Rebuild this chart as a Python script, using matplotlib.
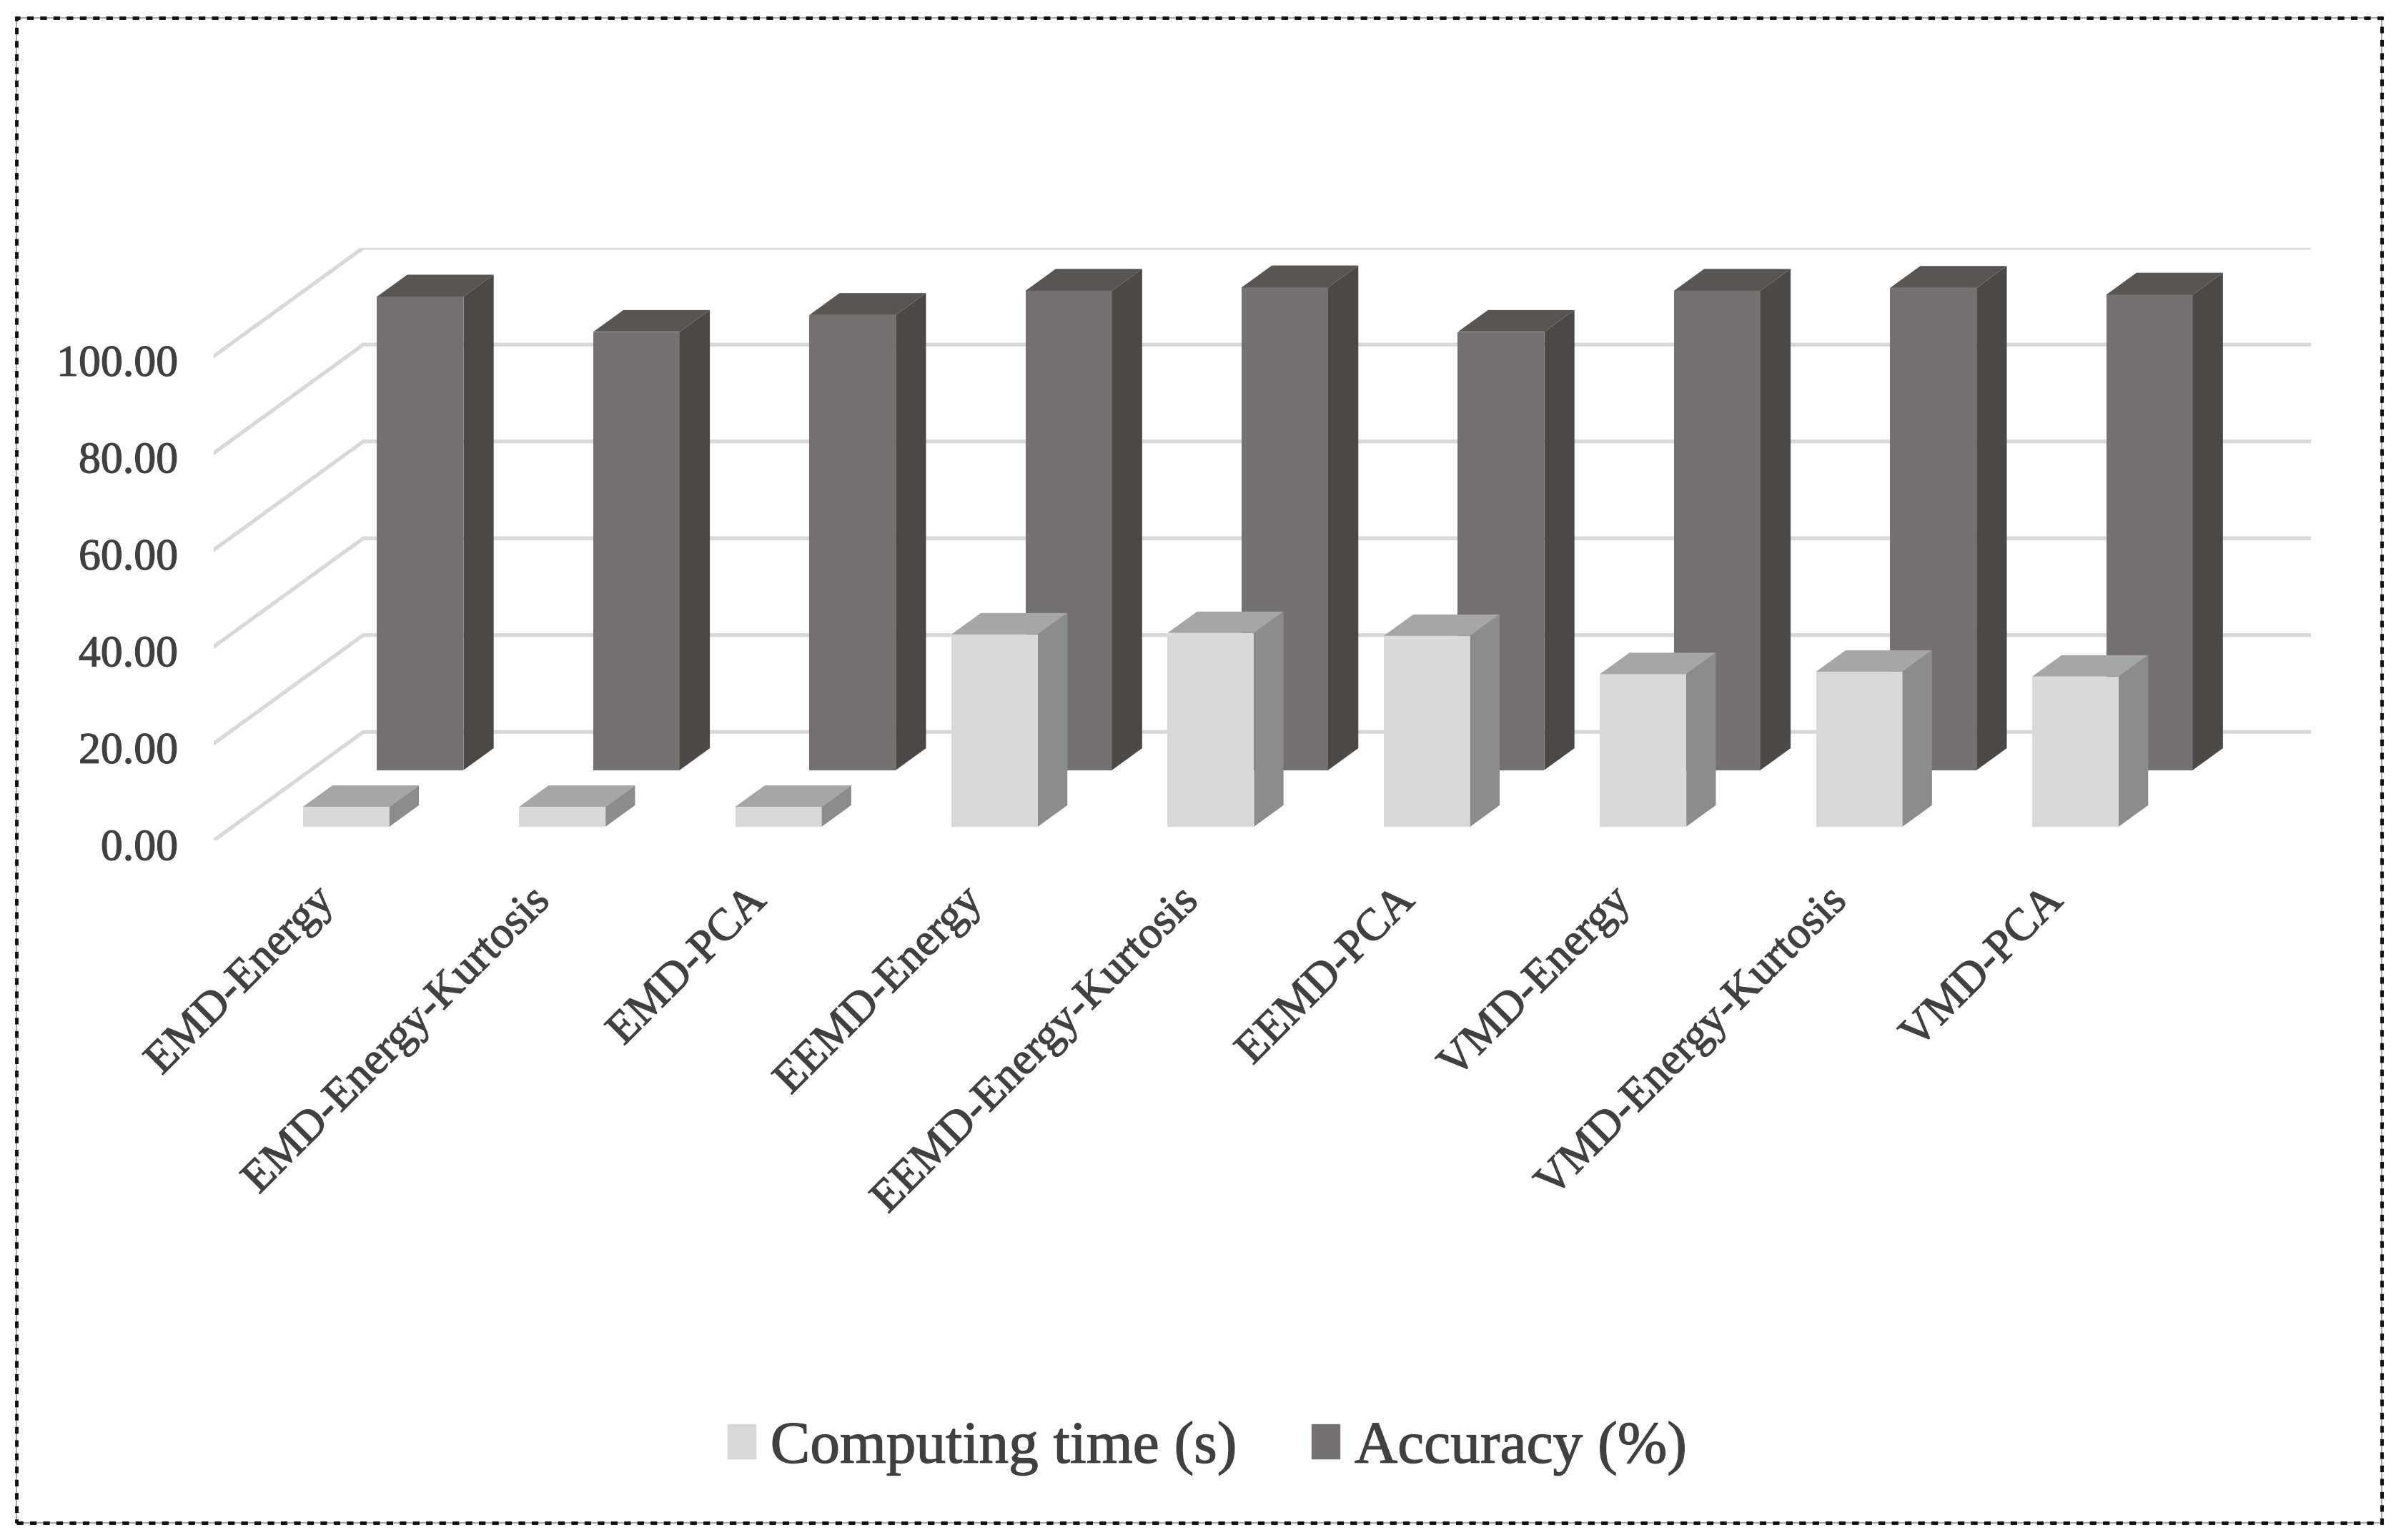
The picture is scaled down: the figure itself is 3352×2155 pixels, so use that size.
import matplotlib
matplotlib.use('Agg')
import matplotlib.pyplot as plt
import matplotlib.patheffects as pe
from matplotlib.patches import Patch, Rectangle
from matplotlib.transforms import ScaledTranslation

plt.rcParams['font.family'] = ['Liberation Serif', 'DejaVu Serif']

categories = ['EMD-Energy', 'EMD-Energy-Kurtosis', 'EMD-PCA',
              'EEMD-Energy', 'EEMD-Energy-Kurtosis', 'EEMD-PCA',
              'VMD-Energy', 'VMD-Energy-Kurtosis', 'VMD-PCA']
computing_time = [4.1, 4.1, 4.1, 39.7, 40.0, 39.4, 31.5, 32.0, 31.0]
accuracy = [97.8, 90.5, 94.0, 99.0, 99.7, 90.5, 99.0, 99.6, 98.2]
y_ticks = [0, 20, 40, 60, 80, 100]
y_labels = ['0.00', '20.00', '40.00', '60.00', '80.00', '100.00']

W, H = 3352, 2155
text_col = '#404040'
grid_col = '#d9d9d9'
heavy = [pe.withStroke(linewidth=0.9, foreground=text_col)]

# fake 3d: depth goes from 0 (front) to 1 (back wall), shifts right and up
DX = 0.692    # category units
DY = 22.4     # value units
BAR_W = 0.40
X_END = 9.01  # right end of the floor

fig = plt.figure(figsize=(W / 100, H / 100), dpi=100)
fig.patch.set_facecolor('white')

# axes pixel box, front plane starts at x=299 and value 0 is at y=1176
left = 299
cat_px = 302.4
val_px = 6.775
bottom = 1176
ax_w = (X_END + DX) * cat_px
ax_h = (100 + DY) * val_px
ax = fig.add_axes([left / W, 1 - bottom / H, ax_w / W, ax_h / H])
ax.set_xlim(0, X_END + DX)
ax.set_ylim(0, 100 + DY)
ax.patch.set_alpha(0)
for s in ax.spines.values():
    s.set_visible(False)

# walls
for v in y_ticks:
    ax.plot([0, DX, X_END + DX], [v, v + DY, v + DY], color=grid_col, lw=3.8,
            solid_joinstyle='miter', zorder=1)


def draw_bars(values, d0, d1, shift, front, top, side, z):
    for i, v in enumerate(values):
        x0 = i + shift + d0 * DX
        x1 = x0 + BAR_W
        y0 = d0 * DY
        y1 = y0 + v
        ddx = (d1 - d0) * DX
        ddy = (d1 - d0) * DY
        ax.bar(x0, v, BAR_W, bottom=y0, align='edge', color=front, zorder=z)
        ax.fill([x0, x1, x1 + ddx, x0 + ddx], [y1, y1, y1 + ddy, y1 + ddy],
                color=top, lw=0, zorder=z)
        ax.fill([x1, x1 + ddx, x1 + ddx, x1], [y0, y0 + ddy, y1 + ddy, y1],
                color=side, lw=0, zorder=z)


draw_bars(accuracy, 0.648, 0.85, 0.307, '#767170', '#5a5553', '#4d4846', 2)
draw_bars(computing_time, 0.127, 0.324, 0.325, '#d9d9d9', '#a6a6a6', '#8c8c8c', 3)

ax.set_yticks(y_ticks)
ax.set_yticklabels(y_labels, fontsize=44.5, color=text_col)
ax.tick_params(axis='y', length=0, pad=36)
for lab in ax.get_yticklabels():
    lab.set_transform(lab.get_transform() + ScaledTranslation(0, -0.06, fig.dpi_scale_trans))
    lab.set_path_effects(heavy)

ax.set_xticks([i + 0.46 for i in range(len(categories))])
ax.set_xticklabels(categories, fontsize=45.5, color=text_col, rotation=45,
                   ha='right', va='top', rotation_mode='anchor')
ax.tick_params(axis='x', length=0, pad=40)
for lab in ax.get_xticklabels():
    lab.set_path_effects(heavy)

handles = [Patch(color='#d9d9d9', label='Computing time (s)'),
           Patch(color='#767170', label='Accuracy (%)')]
leg = fig.legend(handles=handles, loc='center', bbox_to_anchor=(1689 / W, 1 - 2027 / H),
                 frameon=False, ncol=2, fontsize=60, labelcolor=text_col,
                 handlelength=0.47, handleheight=0.5, handletextpad=0.25,
                 columnspacing=1.25, borderpad=0)
for t in leg.get_texts():
    t.set_path_effects(heavy)

# dashed outer frame
x0, x1, y0, y1 = 23, 3332, 25, 2131
for col, lw, ls in [('#999999', 1.2, '-'), ('#111111', 3.5, (0, (1.9, 1.9)))]:
    fig.add_artist(Rectangle((x0 / W, 1 - y1 / H), (x1 - x0) / W, (y1 - y0) / H,
                             transform=fig.transFigure, fill=False,
                             edgecolor=col, lw=lw, ls=ls))

fig.savefig('out.png', dpi=100)
plt.close()
